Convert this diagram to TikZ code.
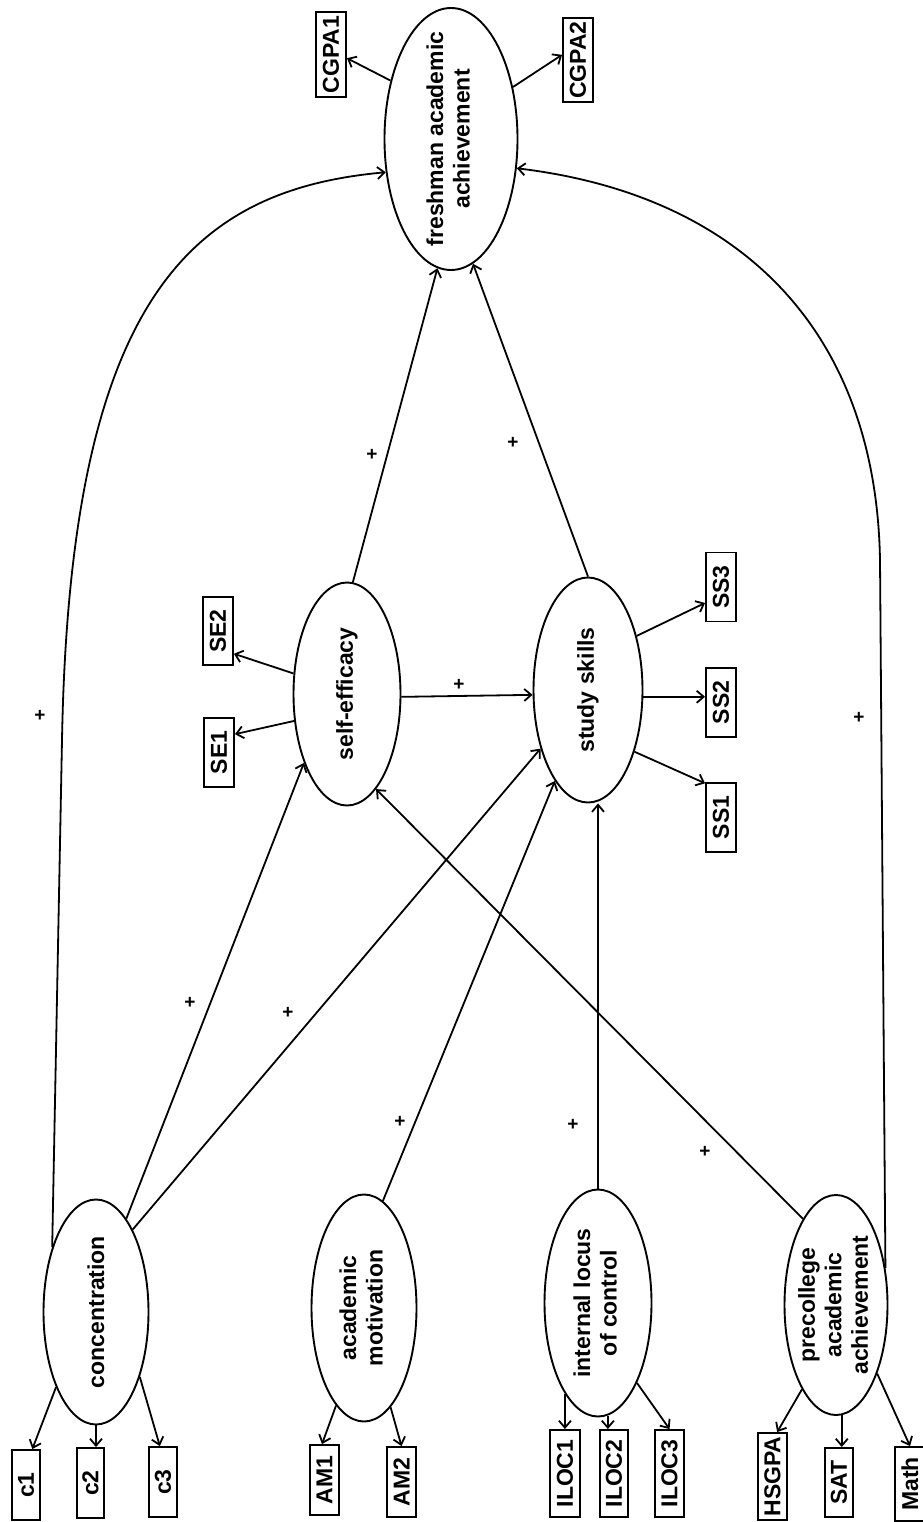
\documentclass[tikz,border=0pt]{standalone}
\usepackage{fontspec}
\setmainfont{Liberation Sans}
\usetikzlibrary{shapes.geometric,arrows.meta}
\begin{document}
\begin{tikzpicture}[x=1pt,y=-1pt,
  latent/.style={ellipse, draw, line width=1.9pt, inner sep=-20pt, font=\fontsize{23}{26.5}\selectfont\bfseries},
  ind/.style={rectangle, draw, line width=1.9pt, inner sep=0pt, font=\fontsize{23}{25}\selectfont\bfseries},
  conn/.style={line width=1.8pt, -{Straight Barb[length=7pt,width=12pt]}},
  sign/.style={font=\fontsize{19}{20}\selectfont\bfseries, inner sep=0pt}]
\useasboundingbox (0,0) rectangle (922,1522);

% latent variables
\node[latent, minimum width=105pt, minimum height=225pt] (conc) at (96,1312) {\rotatebox{90}{concentration}};
\node[latent, minimum width=105pt, minimum height=227pt] (am) at (364,1308) {\rotatebox{90}{\begin{tabular}{@{}c@{}}academic\\motivation\end{tabular}}};
\node[latent, minimum width=107pt, minimum height=227pt] (iloc) at (598,1303) {\rotatebox{90}{\begin{tabular}{@{}c@{}}internal locus\\of control\end{tabular}}};
\node[latent, minimum width=103pt, minimum height=220pt] (pre) at (836,1305) {\rotatebox{90}{\begin{tabular}{@{}c@{}}precollege\\academic\\achievement\end{tabular}}};
\node[latent, minimum width=107pt, minimum height=223pt] (se) at (347,694) {\rotatebox{90}{self-efficacy}};
\node[latent, minimum width=109pt, minimum height=225pt] (ss) at (588,690) {\rotatebox{90}{study skills}};
\node[latent, minimum width=133pt, minimum height=262pt] (fresh) at (451,139) {\rotatebox{90}{\begin{tabular}{@{}c@{}}freshman academic\\achievement\end{tabular}}};

% indicators
\node[ind, minimum width=28pt, minimum height=70pt] (c1) at (26,1485) {\rotatebox{90}{c1}};
\node[ind, minimum width=27pt, minimum height=70pt] (c2) at (90.5,1483) {\rotatebox{90}{c2}};
\node[ind, minimum width=28pt, minimum height=70pt] (c3) at (163,1482) {\rotatebox{90}{c3}};
\node[ind, minimum width=29pt, minimum height=70pt] (AM1) at (324.5,1480) {\rotatebox{90}{AM1}};
\node[ind, minimum width=29pt, minimum height=70pt] (AM2) at (401.5,1482) {\rotatebox{90}{AM2}};
\node[ind, minimum width=30pt, minimum height=87pt] (ILOC1) at (565,1473.5) {\rotatebox{90}{ILOC1}};
\node[ind, minimum width=28pt, minimum height=87pt] (ILOC2) at (614,1473.5) {\rotatebox{90}{ILOC2}};
\node[ind, minimum width=29pt, minimum height=87pt] (ILOC3) at (669.5,1473.5) {\rotatebox{90}{ILOC3}};
\node[ind, minimum width=29pt, minimum height=87pt] (HSGPA) at (772.5,1476.5) {\rotatebox{90}{HSGPA}};
\node[ind, minimum width=28pt, minimum height=69pt] (SAT) at (839,1482.5) {\rotatebox{90}{SAT}};
\node[ind, minimum width=30pt, minimum height=74pt] (Math) at (910,1484) {\rotatebox{90}{Math}};
\node[ind, minimum width=30pt, minimum height=69pt] (SE1) at (219,752.5) {\rotatebox{90}{SE1}};
\node[ind, minimum width=30pt, minimum height=68pt] (SE2) at (218,631) {\rotatebox{90}{SE2}};
\node[ind, minimum width=30pt, minimum height=85pt] (CGPA1) at (331,54.5) {\rotatebox{90}{CGPA1}};
\node[ind, minimum width=30pt, minimum height=84pt] (CGPA2) at (578,60) {\rotatebox{90}{CGPA2}};
\node[ind, minimum width=30pt, minimum height=69pt] (SS1) at (721,817.5) {\rotatebox{90}{SS1}};
\node[ind, minimum width=30pt, minimum height=69pt] (SS2) at (721,702.5) {\rotatebox{90}{SS2}};
\node[ind, minimum width=30pt, minimum height=69pt] (SS3) at (721,587) {\rotatebox{90}{SS3}};

% measurement arrows
\draw[conn] (conc.242) -- (c1.80);
\draw[conn] (conc.270) -- (conc.270 |- c2.north);
\draw[conn] (conc.304) -- (c3.95);
\draw[conn] (am.254) -- (AM1.94);
\draw[conn] (am.285) -- (AM2.north);
\draw[conn] (iloc.250) -- (iloc.250 |- ILOC1.north);
\draw[conn] (iloc.275) -- (iloc.275 |- ILOC2.north);
\draw[conn] (iloc.296) -- (ILOC3.north);
\draw[conn] (pre.248) -- (HSGPA.84);
\draw[conn] (pre.273) -- (pre.273 |- SAT.north);
\draw[conn] (pre.301) -- (Math.north);
\draw[conn] (se.207) -- (SE1.49);
\draw[conn] (se.159) -- (SE2.305);
\draw[conn] (ss.307) -- (SS1.115);
\draw[conn] (ss.353) -- (ss.353 -| SS2.west);
\draw[conn] (ss.48) -- (SS3.225);
\draw[conn] (fresh.136) -- (CGPA1.347);
\draw[conn] (fresh.40) -- (CGPA2.162);

% structural paths
\coordinate (cl) at (62,740);
\coordinate (cr) at (880,560);
\draw[conn] (conc.72) -- (se.238);
\draw[conn] (conc.66) -- (ss.231);
\draw[conn] (am.80) -- (ss.250);
\draw[conn] (iloc.north) -- (iloc.north |- ss.south);
\draw[conn] (pre.111) -- (se.287);
\draw[conn] (se.357) -- (ss.185);
\draw[conn] (se.87) -- (fresh.264);
\draw[conn] (ss.north) -- (fresh.280);
\draw[conn] (conc.124) -- (cl) .. controls (70,300) and (190,190) .. (fresh.207);
\draw[conn] (pre.37) -- (cr) .. controls (876,330) and (740,195) .. (fresh.336);

% signs
\node[sign] (p1) at (40,716) {+};
\node[sign] (p2) at (372,455) {+};
\node[sign] (p3) at (513,443) {+};
\node[sign] (p4) at (459,685) {+};
\node[sign] (p5) at (190,1003) {+};
\node[sign] (p6) at (288,1013) {+};
\node[sign] (p7) at (400,1122) {+};
\node[sign] (p8) at (573,1125) {+};
\node[sign] (p9) at (705,1152) {+};
\node[sign] (p10) at (859,718) {+};
\end{tikzpicture}
\end{document}
